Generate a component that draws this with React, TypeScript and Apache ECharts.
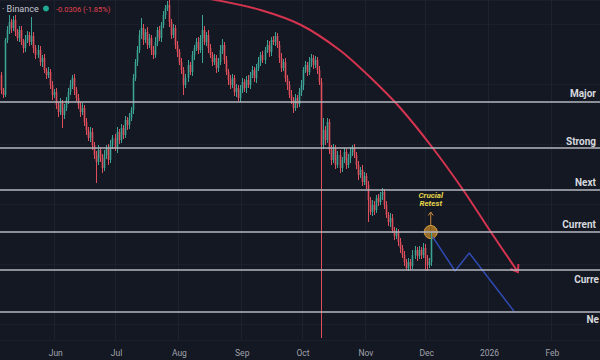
import React, { useEffect, useRef } from 'react';
import * as echarts from 'echarts';

const startDate = '2025-05-05';
const totalDays = 296;
const monthLabels: Record<string, string> = {
  '2025-06': 'Jun', '2025-07': 'Jul', '2025-08': 'Aug', '2025-09': 'Sep', '2025-10': 'Oct',
  '2025-11': 'Nov', '2025-12': 'Dec', '2026-01': '2026', '2026-02': 'Feb',
};

const firstOpen = 2.445;
const closes = [
  2.370, 2.345, 2.620, 2.670, 2.710, 2.680, 2.720, 2.660, 2.630, 2.670,
  2.610, 2.580, 2.620, 2.645, 2.610, 2.640, 2.580, 2.545, 2.570, 2.510,
  2.530, 2.470, 2.445, 2.460, 2.395, 2.345, 2.360, 2.295, 2.260, 2.305,
  2.245, 2.280, 2.320, 2.360, 2.395, 2.430, 2.370, 2.330, 2.295, 2.260,
  2.280, 2.210, 2.170, 2.130, 2.160, 2.095, 2.045, 2.010, 2.070, 2.030,
  1.980, 2.045, 2.080, 2.020, 2.095, 2.130, 2.080, 2.160, 2.120, 2.180,
  2.145, 2.220, 2.195, 2.230, 2.270, 2.430, 2.510, 2.570, 2.645, 2.680,
  2.620, 2.660, 2.595, 2.630, 2.570, 2.545, 2.610, 2.670, 2.630, 2.695,
  2.745, 2.780, 2.795, 2.710, 2.645, 2.680, 2.595, 2.560, 2.510, 2.470,
  2.395, 2.430, 2.495, 2.460, 2.545, 2.580, 2.610, 2.570, 2.630, 2.670,
  2.610, 2.645, 2.580, 2.545, 2.510, 2.530, 2.480, 2.510, 2.570, 2.595,
  2.520, 2.460, 2.420, 2.395, 2.430, 2.360, 2.380, 2.330, 2.370, 2.410,
  2.380, 2.420, 2.395, 2.445, 2.470, 2.430, 2.480, 2.510, 2.545, 2.520,
  2.570, 2.595, 2.560, 2.620, 2.610, 2.640, 2.595, 2.530, 2.480, 2.510,
  2.430, 2.395, 2.345, 2.320, 2.280, 2.330, 2.300, 2.360, 2.395, 2.470,
  2.495, 2.460, 2.510, 2.530, 2.495, 2.520, 2.470, 2.410, 2.095, 2.170,
  2.120, 2.210, 2.070, 2.020, 2.080, 1.995, 2.045, 1.980, 2.020, 2.060,
  1.995, 2.030, 2.060, 2.080, 2.045, 1.995, 1.945, 1.970, 1.910, 1.940,
  1.895, 1.820, 1.760, 1.795, 1.770, 1.830, 1.810, 1.845, 1.860, 1.795,
  1.745, 1.710, 1.730, 1.670, 1.640, 1.660, 1.610, 1.580, 1.545, 1.510,
  1.480, 1.510, 1.490, 1.545, 1.570, 1.540, 1.570, 1.545, 1.580, 1.530,
  1.495, 1.510, 1.625,
];
const upperWicks = [
  .015, .01, .01, .02, .035, .015, .02, .025, .015, .02,
  .02, .015, .025, .02, .015, .095, .02, .015, .025, .02,
  .015, .02, .01, .025, .015, .02, .015, .02, .015, .025,
  .015, .02, .015, .02, .025, .015, .02, .015, .02, .015,
  .025, .015, .02, .015, .025, .02, .015, .02, .025, .015,
  .02, .025, .015, .02, .025, .015, .02, .025, .015, .02,
  .015, .02, .015, .025, .015, .02, .015, .02, .025, .05,
  .02, .015, .025, .02, .015, .02, .025, .015, .02, .015,
  .02, .015, .02, .025, .015, .02, .015, .02, .015, .02,
  .015, .02, .025, .015, .02, .015, .02, .025, .015, .075,
  .02, .015, .025, .02, .015, .02, .015, .02, .025, .03,
  .015, .02, .015, .025, .02, .015, .02, .015, .025, .02,
  .015, .02, .025, .015, .02, .015, .02, .025, .015, .02,
  .015, .025, .02, .015, .02, .02, .015, .02, .025, .015,
  .02, .015, .02, .025, .015, .02, .015, .02, .025, .015,
  .02, .015, .025, .02, .015, .02, .015, .02, .02, .06,
  .02, .02, .015, .025, .02, .015, .02, .025, .015, .02,
  .015, .02, .025, .015, .02, .015, .02, .015, .025, .02,
  .015, .02, .015, .025, .02, .015, .02, .015, .02, .015,
  .02, .015, .025, .02, .015, .02, .015, .02, .015, .02,
  .015, .02, .015, .025, .02, .015, .02, .015, .025, .02,
  .015, .02, .035,
];
const lowerWicks = [
  .02, .015, .01, .015, .02, .025, .015, .02, .015, .02,
  .015, .025, .02, .015, .02, .015, .025, .02, .015, .02,
  .025, .015, .02, .015, .02, .025, .015, .02, .025, .015,
  .065, .02, .015, .02, .015, .02, .025, .015, .02, .025,
  .015, .02, .025, .015, .02, .025, .02, .105, .015, .02,
  .025, .015, .02, .025, .015, .02, .015, .025, .02, .015,
  .02, .015, .025, .02, .015, .02, .015, .02, .015, .02,
  .025, .015, .02, .015, .025, .02, .015, .02, .015, .02,
  .015, .02, .015, .025, .02, .015, .02, .025, .015, .02,
  .05, .015, .02, .015, .02, .025, .015, .02, .015, .125,
  .015, .02, .025, .015, .02, .015, .025, .02, .015, .02,
  .02, .015, .025, .02, .015, .02, .025, .015, .02, .015,
  .02, .025, .015, .02, .015, .02, .025, .015, .02, .015,
  .02, .015, .025, .02, .015, .02, .015, .025, .02, .015,
  .02, .025, .015, .02, .025, .015, .02, .015, .02, .025,
  .015, .02, .015, .025, .02, .015, .02, .015, .965, .02,
  .025, .015, .02, .025, .015, .02, .015, .025, .02, .015,
  .02, .015, .025, .02, .015, .02, .025, .015, .02, .015,
  .02, .11, .015, .02, .025, .015, .02, .015, .025, .02,
  .015, .02, .025, .015, .02, .015, .02, .025, .015, .02,
  .01, .015, .02, .015, .02, .025, .015, .02, .015, .06,
  .03, .015, .02,
];

const levelValues = [2.315, 2.075, 1.87, 1.66, 1.465, 1.265];
const levelLabels = ['Major', 'Strong', 'Next', 'Current', 'Curre', 'Ne'];

// projection drawings, [day index, price]
const arcPoints = [[93, 2.84], [106, 2.82], [128, 2.77], [148, 2.695], [167, 2.57], [182, 2.435], [197, 2.28], [213, 2.08], [228, 1.87], [241, 1.67], [255, 1.46]];
const bluePath = [[213, 1.635], [224, 1.465], [231, 1.555], [253, 1.265]];
const retestPoint = [212, 1.66];

const headerSource = '· Binance';
const headerChange = '-0.0306 (-1.85%)';

function buildDates(): string[] {
  const out: string[] = [];
  const d0 = new Date(startDate + 'T00:00:00Z');
  for (let i = 0; i < totalDays; i++) {
    const d = new Date(d0.getTime() + i * 86400000);
    out.push(d.toISOString().slice(0, 10));
  }
  return out;
}

export default function App() {
  const ref = useRef<HTMLDivElement>(null);
  useEffect(() => {
    const chart = echarts.init(ref.current!, null, { renderer: 'svg' });
    const dates = buildDates();
    const candles = closes.map((c, i) => {
      const o = i === 0 ? firstOpen : closes[i - 1];
      return [i, o, c, Math.min(o, c) - lowerWicks[i], Math.max(o, c) + upperWicks[i]];
    });
    const isMonthStart = (_i: number, v: string) => v.endsWith('-01') && !!monthLabels[v.slice(0, 7)];
    const up = '#3aa393';
    const down = '#de4f5b';
    const renderCandle = (_params: any, api: any) => {
      const i = api.value(0);
      const o = api.value(1);
      const c = api.value(2);
      const pO = api.coord([i, o]);
      const pC = api.coord([i, c]);
      const pL = api.coord([i, api.value(3)]);
      const pH = api.coord([i, api.value(4)]);
      const color = c >= o ? up : down;
      const x = Math.round(pO[0]) + 0.5;
      const top = Math.min(pO[1], pC[1]);
      const h = Math.max(Math.abs(pO[1] - pC[1]), 1);
      return {
        type: 'group',
        children: [
          { type: 'line', shape: { x1: x, y1: pH[1], x2: x, y2: pL[1] }, style: { stroke: color, lineWidth: 1 } },
          { type: 'rect', shape: { x: x - 0.8, y: top, width: 1.6, height: h }, style: { fill: color } },
        ],
      };
    };
    chart.setOption({
      animation: false,
      backgroundColor: '#141823',
      grid: { left: 0, right: 0, top: 0, bottom: 20 },
      xAxis: {
        type: 'category',
        data: dates,
        boundaryGap: true,
        axisLine: { show: false },
        axisTick: { show: false },
        axisLabel: {
          interval: isMonthStart,
          formatter: (v: string) => monthLabels[v.slice(0, 7)] || '',
          color: '#a0a3ac',
          fontSize: 8.5,
          fontFamily: 'Roboto',
          margin: 8,
        },
        splitLine: { show: true, interval: isMonthStart, lineStyle: { color: '#1d2230', width: 1 } },
      },
      yAxis: {
        type: 'value',
        min: 1.12,
        max: 2.82,
        position: 'right',
        axisLabel: { show: false },
        axisLine: { show: false },
        axisTick: { show: false },
        splitLine: { show: true, lineStyle: { color: '#1b1f2b', width: 1 } },
      },
      series: [
        {
          type: 'custom',
          data: candles,
          renderItem: renderCandle,
          encode: { x: 0, y: [1, 2, 3, 4] },
          silent: true,
          clip: true,
        },
        {
          type: 'line',
          data: arcPoints,
          smooth: 0.3,
          symbol: 'none',
          lineStyle: { color: '#d4344f', width: 2 },
          silent: true,
        },
        {
          type: 'line',
          data: bluePath,
          symbol: 'none',
          lineStyle: { color: '#2f4bb3', width: 1.5 },
          silent: true,
          markLine: {
            silent: true,
            symbol: ['none', 'none'],
            label: { show: false },
            lineStyle: { color: '#b4b7c0', width: 1.6, type: 'solid' },
            data: levelValues.map((v) => ({ yAxis: v })),
          },
        },
      ],
    });

    const px = (p: number[]) => chart.convertToPixel({ gridIndex: 0 }, p) as number[];
    const labelFont = { fontSize: 10, fontWeight: 'bold', fontFamily: 'Roboto', fill: '#d6d8de' };
    const graphics: any[] = [];
    levelValues.forEach((v, i) => {
      const y = (chart.convertToPixel({ yAxisIndex: 0 }, v) as number) + (i < 4 ? -8 : 8);
      graphics.push({
        type: 'text', x: i < 4 ? 596 : 599, y, silent: true,
        style: { text: levelLabels[i], ...labelFont, align: 'right', verticalAlign: 'middle' },
      });
    });
    // red arc arrowhead
    const tip = px(arcPoints[arcPoints.length - 1]);
    graphics.push({
      type: 'polyline', silent: true,
      shape: { points: [[tip[0] - 7.5, tip[1] - 3], [tip[0], tip[1]], [tip[0] + 0.5, tip[1] - 8]] },
      style: { stroke: '#d4344f', lineWidth: 2, fill: 'none' },
    });
    // retest marker
    const c = px(retestPoint);
    const cx = c[0];
    const cy = c[1];
    graphics.push(
      { type: 'line', silent: true, shape: { x1: cx, y1: cy - 6, x2: cx, y2: cy - 20 }, style: { stroke: '#c98a3c', lineWidth: 1 } },
      { type: 'polyline', silent: true, shape: { points: [[cx - 2.5, cy - 16.5], [cx, cy - 20], [cx + 2.5, cy - 16.5]] }, style: { stroke: '#c98a3c', lineWidth: 1, fill: 'none' } },
      { type: 'circle', silent: true, shape: { cx, cy, r: 6.5 }, style: { fill: 'rgba(196,136,40,0.75)', stroke: '#dba344', lineWidth: 1 } },
      { type: 'line', silent: true, shape: { x1: cx - 6, y1: cy, x2: cx + 6, y2: cy }, style: { stroke: 'rgba(110,75,20,0.7)', lineWidth: 0.8 } },
      { type: 'line', silent: true, shape: { x1: cx, y1: cy - 6, x2: cx, y2: cy + 6 }, style: { stroke: 'rgba(110,75,20,0.7)', lineWidth: 0.8 } },
      { type: 'text', silent: true, x: cx, y: cy - 37, style: { text: 'Crucial', fill: '#e6d64c', fontSize: 8, fontWeight: 'bold', fontStyle: 'italic', fontFamily: 'Roboto', align: 'center', verticalAlign: 'middle' } },
      { type: 'text', silent: true, x: cx, y: cy - 29, style: { text: 'Retest', fill: '#e6d64c', fontSize: 8, fontWeight: 'bold', fontStyle: 'italic', fontFamily: 'Roboto', align: 'center', verticalAlign: 'middle' } },
    );
    // header
    graphics.push(
      { type: 'text', silent: true, x: 2, y: 9, style: { text: headerSource, fill: '#c5c8d0', fontSize: 9, fontFamily: 'Roboto', verticalAlign: 'middle' } },
      { type: 'circle', silent: true, shape: { cx: 46, cy: 8.5, r: 3 }, style: { fill: '#22ab94' } },
      { type: 'text', silent: true, x: 56, y: 9, style: { text: headerChange, fill: '#e0424e', fontSize: 7.5, fontFamily: 'Roboto', verticalAlign: 'middle' } },
    );
    chart.setOption({ graphic: graphics });
    return () => chart.dispose();
  }, []);
  return <div ref={ref} style={{ position: 'fixed', left: 0, top: 0, width: 600, height: 360 }} />;
}
